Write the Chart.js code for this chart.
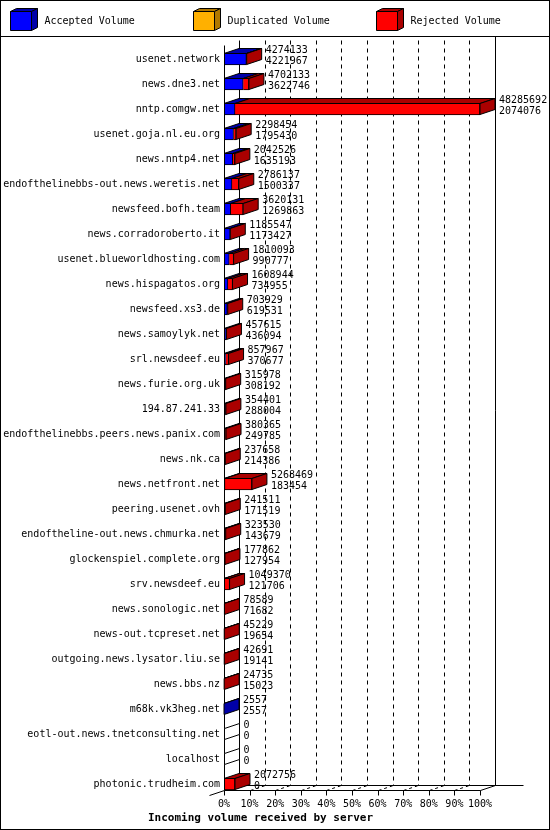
<!DOCTYPE html>
<html>
<head>
<meta charset="utf-8">
<script src="https://cdn.jsdelivr.net/npm/chart.js@4.4.1/dist/chart.umd.min.js"></script>
<style>
  html, body { margin: 0; padding: 0; background: #fff; }
  #wrap { width: 550px; height: 830px; }
</style>
</head>
<body>
<div id="wrap"><canvas id="volChart" width="550" height="830"></canvas></div>
<script>
// servidores e volumes
var servers = [
    'usenet.network', 'news.dne3.net', 'nntp.comgw.net', 'usenet.goja.nl.eu.org',
    'news.nntp4.net', 'endofthelinebbs-out.news.weretis.net', 'newsfeed.bofh.team',
    'news.corradoroberto.it', 'usenet.blueworldhosting.com', 'news.hispagatos.org',
    'newsfeed.xs3.de', 'news.samoylyk.net', 'srl.newsdeef.eu', 'news.furie.org.uk',
    '194.87.241.33', 'endofthelinebbs.peers.news.panix.com', 'news.nk.ca',
    'news.netfront.net', 'peering.usenet.ovh', 'endoftheline-out.news.chmurka.net',
    'glockenspiel.complete.org', 'srv.newsdeef.eu', 'news.sonologic.net',
    'news-out.tcpreset.net', 'outgoing.news.lysator.liu.se', 'news.bbs.nz',
    'm68k.vk3heg.net', 'eotl-out.news.tnetconsulting.net', 'localhost',
    'photonic.trudheim.com'
];
var totalVolume = [
    4274133, 4702133, 48285692, 2298454, 2042526, 2786137, 3620131, 1185547,
    1810093, 1608944, 703929, 457615, 857967, 315978, 354401, 380365, 237658,
    5268469, 241511, 323530, 177862, 1049370, 78589, 45229, 42691, 24735,
    2557, 0, 0, 2072756
];
var acceptedVolume = [
    4221967, 3622746, 2074076, 1795430, 1635193, 1500337, 1269863, 1173427,
    990777, 734955, 619531, 436094, 370677, 308192, 288004, 249785, 214386,
    183454, 171519, 143679, 127954, 121706, 71682, 19654, 19141, 15023,
    2557, 0, 0, 0
];
var duplicatedVolume = [
    0, 0, 0, 0, 0, 0, 0, 0, 0, 0, 0, 0, 0, 0, 0, 0, 0, 0, 0, 0,
    0, 0, 0, 0, 0, 0, 0, 0, 0, 0
];
var xTickLabels = ['0%', '10%', '20%', '30%', '40%', '50%', '60%', '70%', '80%', '90%', '100%'];
var seriesNames = ['Accepted Volume', 'Duplicated Volume', 'Rejected Volume'];

var maxVolume = Math.max.apply(null, totalVolume);
function pct(v) { return v / maxVolume * 100; }

var rejectedVolume = totalVolume.map(function (t, i) {
    return t - acceptedVolume[i] - duplicatedVolume[i];
});

var MONO = '"DejaVu Sans Mono", "Liberation Mono", monospace';
var DX = 15, DY = 5;     // profundidade 3D
var front = ['#0000ff', '#ffb000', '#ff0000'];
var dark = ['#0000a8', '#b07800', '#aa0000'];

function poly(ctx, pts, fill) {
    ctx.beginPath();
    ctx.moveTo(pts[0][0], pts[0][1]);
    for (var k = 1; k < pts.length; k++) ctx.lineTo(pts[k][0], pts[k][1]);
    ctx.closePath();
    ctx.fillStyle = fill;
    ctx.fill();
    ctx.stroke();
}

function line(ctx, x1, y1, x2, y2) {
    ctx.beginPath();
    ctx.moveTo(x1, y1);
    ctx.lineTo(x2, y2);
    ctx.stroke();
}

var gdLook = {
    id: 'gdLook',
    beforeDraw: function (chart) {
        var ctx = chart.ctx;
        ctx.save();
        ctx.fillStyle = '#fff';
        ctx.fillRect(0, 0, chart.width, chart.height);
        ctx.restore();
    },
    beforeDatasetsDraw: function (chart) {
        var ctx = chart.ctx, xs = chart.scales.x, ys = chart.scales.y;
        var floorY = Math.round(ys.getPixelForValue(servers.length - 1) + 6) + 0.5;
        var backY = floorY - DY;
        var topBack = 40.5;
        ctx.save();
        ctx.strokeStyle = '#000';
        ctx.lineWidth = 1;
        // paredes de fundo
        for (var k = 0; k <= 10; k++) {
            var xb = Math.round(xs.getPixelForValue(k * 10) + DX) + 0.5;
            if (k === 0 || k === 10) {
                ctx.setLineDash([]);
                line(ctx, xb, k === 10 ? 36 : topBack, xb, backY);
            } else {
                ctx.setLineDash([4, 4]);
                line(ctx, xb, topBack, xb, backY);
            }
        }
        ctx.setLineDash([]);
        // chão
        var x0 = Math.round(xs.getPixelForValue(0)) + 0.5;
        var x100 = Math.round(xs.getPixelForValue(100)) + 0.5;
        line(ctx, x0, floorY, x100, floorY);
        line(ctx, x0 + DX, backY, x100 + DX + 28, backY);
        line(ctx, x100, floorY, x100 + DX, backY);
        line(ctx, x0 - 15, floorY + 5, x0, floorY);
        for (var k = 0; k <= 10; k++) {
            var xf = Math.round(xs.getPixelForValue(k * 10)) + 0.5;
            line(ctx, xf, floorY, xf, floorY + 5);
            if (k > 0 && k < 10) {
                ctx.setLineDash([3, 3]);
                line(ctx, xf, floorY, xf + DX, backY);
                ctx.setLineDash([]);
            }
        }
        ctx.restore();
    },
    afterDatasetsDraw: function (chart) {
        var ctx = chart.ctx, xs = chart.scales.x, ys = chart.scales.y;
        var metas = [0, 1, 2].map(function (d) { return chart.getDatasetMeta(d); });
        ctx.save();
        ctx.strokeStyle = '#000';
        ctx.lineWidth = 1;
        var x0 = Math.round(xs.getPixelForValue(0)) + 0.5;
        var floorY = Math.round(ys.getPixelForValue(servers.length - 1) + 6) + 0.5;
        line(ctx, x0, 45.5, x0, floorY);

        for (var i = 0; i < servers.length; i++) {
            var endX = x0, sideColor = '#fff', cy = 0, top = 0, bot = 0;
            for (var d = 0; d < 3; d++) {
                var p = metas[d].data[i].getProps(['x', 'y', 'base', 'height'], true);
                cy = p.y;
                top = Math.round(p.y - p.height / 2) + 0.5;
                bot = Math.round(p.y + p.height / 2) - 0.5;
                var a = Math.min(p.x, p.base), b = Math.max(p.x, p.base);
                if (b - a > 0.01) {
                    poly(ctx, [[a, top], [b, top], [b + DX, top - DY], [a + DX, top - DY]], dark[d]);
                    endX = b;
                    sideColor = dark[d];
                }
            }
            poly(ctx, [[endX, top], [endX + DX, top - DY], [endX + DX, bot - DY], [endX, bot]], sideColor);

            ctx.fillStyle = '#000';
            ctx.font = '10px ' + MONO;
            ctx.textAlign = 'left';
            ctx.textBaseline = 'middle';
            ctx.fillText(String(totalVolume[i]), endX + DX + 4, cy - 9);
            ctx.fillText(String(acceptedVolume[i]), endX + DX + 4, cy + 2);
        }

        // legenda
        ctx.font = '10px ' + MONO;
        ctx.textBaseline = 'middle';
        for (var d = 0; d < 3; d++) {
            var lx = 10.5 + d * 183, ly = 11.5, w = 21, h = 19, ddx = 6, ddy = 3;
            poly(ctx, [[lx, ly], [lx + w, ly], [lx + w + ddx, ly - ddy], [lx + ddx, ly - ddy]], dark[d]);
            poly(ctx, [[lx + w, ly], [lx + w + ddx, ly - ddy], [lx + w + ddx, ly + h - ddy], [lx + w, ly + h]], dark[d]);
            poly(ctx, [[lx, ly], [lx + w, ly], [lx + w, ly + h], [lx, ly + h]], front[d]);
            ctx.fillStyle = '#000';
            ctx.fillText(chart.data.datasets[d].label, lx + 34, 21);
        }
        line(ctx, 0, 36.5, 550, 36.5);

        // título do eixo
        ctx.font = 'bold 11px ' + MONO;
        ctx.textAlign = 'center';
        ctx.fillText('Incoming volume received by server', 260.5, 818);

        ctx.strokeRect(0.5, 0.5, chart.width - 1, chart.height - 1);
        ctx.restore();
    }
};

var ctx = document.getElementById('volChart').getContext('2d');

var volChart = new Chart(ctx, {
    type: 'bar',
    data: {
        labels: servers,
        datasets: [{
            label: seriesNames[0],
            data: acceptedVolume.map(pct),
            backgroundColor: front[0],
            borderColor: '#000',
            borderWidth: 1,
            borderSkipped: false,
            barThickness: 12
        }, {
            label: seriesNames[1],
            data: duplicatedVolume.map(pct),
            backgroundColor: front[1],
            borderColor: '#000',
            borderWidth: 1,
            borderSkipped: 'start',
            barThickness: 12
        }, {
            label: seriesNames[2],
            data: rejectedVolume.map(pct),
            backgroundColor: front[2],
            borderColor: '#000',
            borderWidth: 1,
            borderSkipped: 'start',
            barThickness: 12
        }]
    },
    options: {
        responsive: false,
        animation: false,
        indexAxis: 'y',
        layout: { padding: { top: 46.5, right: 70, left: 0, bottom: 0 } },
        plugins: {
            legend: { display: false },
            tooltip: { enabled: false }
        },
        scales: {
            x: {
                stacked: true,
                min: 0,
                max: 100,
                grid: { display: false, drawTicks: false, tickLength: 0 },
                border: { display: false },
                afterFit: function (s) { s.height = 33.5; },
                ticks: {
                    stepSize: 10,
                    padding: 2,
                    autoSkip: false,
                    maxRotation: 0,
                    color: '#000',
                    font: { family: MONO, size: 10 },
                    callback: function (v, i) { return xTickLabels[i]; }
                }
            },
            y: {
                stacked: true,
                grid: { display: false, drawTicks: false, tickLength: 0 },
                border: { display: false },
                afterFit: function (s) { s.width = 224; },
                ticks: {
                    padding: 4,
                    autoSkip: false,
                    color: '#000',
                    font: { family: MONO, size: 10 }
                }
            }
        }
    },
    plugins: [gdLook]
});
</script>
</body>
</html>
